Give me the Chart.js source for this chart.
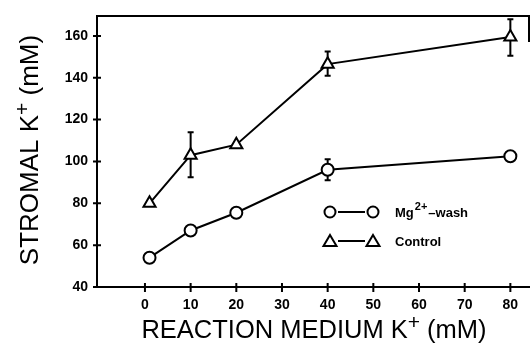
<!DOCTYPE html>
<html>
<head>
<meta charset="utf-8">
<script src="https://cdn.jsdelivr.net/npm/chart.js@4.4.1/dist/chart.umd.min.js"></script>
<style>
  html, body { margin: 0; padding: 0; background: #fff; }
  #wrap { width: 530px; height: 347px; }
</style>
</head>
<body>
<div id="wrap"><canvas id="kChart"></canvas></div>
<script>
// medium K+ (mM)
const xValues = [1, 10, 20, 40, 80];
// stromal K+ (mM)
const mgWash = [54, 67, 75.5, 96, 102.5];
const control = [80, 103, 108, 146.5, 159.5];
// error bar ends (null = none drawn)
const mgErrLow = [null, null, null, 91, null];
const mgErrHigh = [null, null, null, 101, null];
const controlErrLow = [null, 92.5, null, 141, 150.5];
const controlErrHigh = [null, 114, null, 152.5, 168];
const xTicks = [0, 10, 20, 30, 40, 50, 60, 70, 80];
const yTicks = [40, 60, 80, 100, 120, 140, 160];

const toPoints = (ys) => xValues.map((x, i) => ({ x: x, y: ys[i] }));

const framePlugin = {
  id: 'frame',
  beforeDatasetsDraw(chart) {
    const ctx = chart.ctx;
    const a = chart.chartArea;
    const xs = chart.scales.x, ys = chart.scales.y;
    ctx.save();
    ctx.strokeStyle = '#000';
    ctx.lineWidth = 2;
    // top and right edges of the box
    ctx.beginPath();
    ctx.moveTo(a.left, a.top);
    ctx.lineTo(a.right, a.top);
    ctx.moveTo(a.right - 1, a.top);
    ctx.lineTo(a.right - 1, a.top + 26);
    ctx.stroke();
    // crossing tick marks
    ctx.beginPath();
    yTicks.forEach(v => {
      const py = ys.getPixelForValue(v);
      ctx.moveTo(a.left - 4, py);
      ctx.lineTo(a.left + 4, py);
    });
    xTicks.forEach(v => {
      const px = xs.getPixelForValue(v);
      ctx.moveTo(px, a.bottom - 4);
      ctx.lineTo(px, a.bottom + 5);
    });
    ctx.stroke();

    // error bars
    const bars = [[mgErrLow, mgErrHigh], [controlErrLow, controlErrHigh]];
    bars.forEach(([lo, hi]) => {
      xValues.forEach((x, i) => {
        if (lo[i] == null) return;
        const px = xs.getPixelForValue(x);
        const pl = ys.getPixelForValue(lo[i]);
        const ph = ys.getPixelForValue(hi[i]);
        ctx.beginPath();
        ctx.moveTo(px, pl);
        ctx.lineTo(px, ph);
        ctx.moveTo(px - 3, pl);
        ctx.lineTo(px + 3, pl);
        ctx.moveTo(px - 3, ph);
        ctx.lineTo(px + 3, ph);
        ctx.stroke();
      });
    });
    ctx.restore();
  },
  afterDraw(chart) {
    const ctx = chart.ctx;
    ctx.save();
    ctx.fillStyle = '#000';
    ctx.strokeStyle = '#000';
    ctx.lineWidth = 2;

    // legend
    const rows = [
      { y: 212, style: 'circle' },
      { y: 241, style: 'triangle' }
    ];
    rows.forEach(r => {
      ctx.beginPath();
      ctx.moveTo(338, r.y);
      ctx.lineTo(365, r.y);
      ctx.stroke();
      [330, 373].forEach(cx => {
        ctx.beginPath();
        if (r.style === 'circle') {
          ctx.arc(cx, r.y, 5.5, 0, Math.PI * 2);
        } else {
          ctx.moveTo(cx, r.y - 6);
          ctx.lineTo(cx + 6.5, r.y + 5);
          ctx.lineTo(cx - 6.5, r.y + 5);
          ctx.closePath();
        }
        ctx.fillStyle = '#fff';
        ctx.fill();
        ctx.stroke();
      });
    });
    ctx.fillStyle = '#000';
    ctx.textBaseline = 'alphabetic';
    ctx.textAlign = 'left';
    ctx.font = 'bold 13px "Liberation Sans", Arial, sans-serif';
    let tx = 395;
    ctx.fillText('Mg', tx, 217);
    tx += ctx.measureText('Mg').width + 1;
    ctx.font = 'bold 11px "Liberation Sans", Arial, sans-serif';
    ctx.fillText('2+', tx, 210);
    tx += ctx.measureText('2+').width + 1;
    ctx.font = 'bold 13px "Liberation Sans", Arial, sans-serif';
    ctx.fillText('\u2013wash', tx, 217);
    ctx.fillText('Control', 395, 246);

    // axis titles, K with a raised plus
    const drawTitle = (main, tail, size) => {
      const big = size + 'px "Liberation Sans", Arial, sans-serif';
      const small = Math.round(size * 0.82) + 'px "Liberation Sans", Arial, sans-serif';
      ctx.font = big;
      const wMain = ctx.measureText(main).width;
      const wTail = ctx.measureText(tail).width;
      ctx.font = small;
      const wPlus = ctx.measureText('+').width;
      const x0 = -(wMain + wPlus + wTail) / 2;
      ctx.font = big;
      ctx.fillText(main, x0, 0);
      ctx.fillText(tail, x0 + wMain + wPlus, 0);
      ctx.font = small;
      ctx.fillText('+', x0 + wMain, -size * 0.36);
    };
    ctx.save();
    ctx.translate(314, 338);
    drawTitle('REACTION MEDIUM K', ' (mM)', 25.5);
    ctx.restore();
    ctx.save();
    ctx.translate(38, 150);
    ctx.rotate(-Math.PI / 2);
    drawTitle('STROMAL K', ' (mM)', 26);
    ctx.restore();
    ctx.restore();
  }
};

new Chart(document.getElementById('kChart'), {
  type: 'scatter',
  data: {
    datasets: [
      {
        label: 'Mg2+-wash',
        data: toPoints(mgWash),
        showLine: true,
        borderColor: '#000',
        borderWidth: 2,
        pointStyle: 'circle',
        pointRadius: 6,
        pointBorderWidth: 2,
        pointBackgroundColor: '#fff',
        pointBorderColor: '#000'
      },
      {
        label: 'Control',
        data: toPoints(control),
        showLine: true,
        borderColor: '#000',
        borderWidth: 2,
        pointStyle: 'triangle',
        pointRadius: 7,
        pointBorderWidth: 2,
        pointBackgroundColor: '#fff',
        pointBorderColor: '#000'
      }
    ]
  },
  options: {
    responsive: true,
    maintainAspectRatio: false,
    animation: false,
    layout: { autoPadding: false, padding: { top: 16, right: 0, left: 0, bottom: 0 } },
    scales: {
      x: {
        type: 'linear',
        min: -10.5,
        max: 84.3,
        afterBuildTicks: (s) => { s.ticks = xTicks.map(v => ({ value: v })); },
        afterFit: (s) => { s.height = 60; s.paddingLeft = 0; s.paddingRight = 0; },
        grid: { display: false, drawTicks: false },
        border: { color: '#000', width: 2 },
        ticks: {
          color: '#000',
          padding: 10,
          maxRotation: 0,
          font: { family: '"Liberation Sans", Arial, sans-serif', size: 14, weight: 'bold' }
        }
      },
      y: {
        min: 40,
        max: 169.5,
        afterBuildTicks: (s) => { s.ticks = yTicks.map(v => ({ value: v })); },
        afterFit: (s) => { s.width = 97; s.paddingTop = 0; s.paddingBottom = 0; },
        grid: { display: false, drawTicks: false },
        border: { color: '#000', width: 2 },
        ticks: {
          color: '#000',
          padding: 9,
          font: { family: '"Liberation Sans", Arial, sans-serif', size: 14, weight: 'bold' }
        }
      }
    },
    plugins: {
      legend: { display: false },
      tooltip: { enabled: false }
    }
  },
  plugins: [framePlugin]
});
</script>
</body>
</html>
